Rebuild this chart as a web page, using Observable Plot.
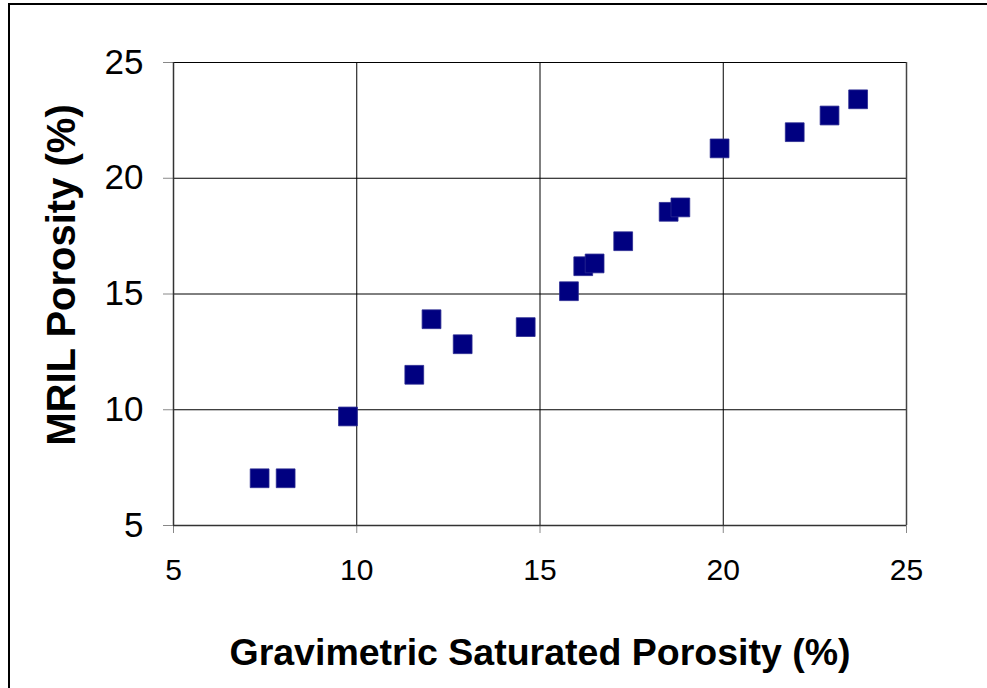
<!DOCTYPE html>
<html>
<head>
<meta charset="utf-8">
<script src="https://cdn.jsdelivr.net/npm/d3@7"></script>
<script src="https://cdn.jsdelivr.net/npm/@observablehq/plot@0.6"></script>
<style>
  html, body { margin: 0; padding: 0; background: #fff; overflow: hidden; }
  #wrap { position: relative; width: 987px; height: 688px; }
  #border { position: absolute; left: 8px; top: 3px; width: 1200px; height: 1200px; border: 2px solid #000; box-sizing: border-box; pointer-events: none; }
  #chart { position: absolute; left: 0; top: 0; }
</style>
</head>
<body>
<div id="wrap"><div id="border"></div><div id="chart"></div></div>
<script>
const gravimetric = [7.35, 8.06, 9.76, 11.57, 12.04, 12.89, 14.61, 15.79, 16.18, 16.49, 17.27, 18.51, 18.83, 19.90, 21.95, 22.90, 23.68];
const mril        = [7.04, 7.04, 9.71, 11.51, 13.91, 12.83, 13.57, 15.12, 16.20, 16.32, 17.28, 18.55, 18.74, 21.29, 21.99, 22.71, 23.41];
const xTicks = [5, 10, 15, 20, 25];
const yTicks = [5, 10, 15, 20, 25];
const xTitle = "Gravimetric Saturated Porosity (%)";
const yTitle = "MRIL Porosity (%)";

const data = gravimetric.map((g, i) => ({g, m: mril[i]}));
const font = "'Liberation Sans', Arial, Helvetica, sans-serif";

const chart = Plot.plot({
  width: 987,
  height: 688,
  marginLeft: 173,
  marginRight: 81,
  marginTop: 62,
  marginBottom: 163,
  style: {fontFamily: font, background: "transparent", overflow: "visible"},
  x: {domain: [5, 25]},
  y: {domain: [5, 25]},
  marks: [
    Plot.ruleX(xTicks, {stroke: "#000", strokeWidth: 1}),
    Plot.ruleY(yTicks, {stroke: "#000", strokeWidth: 1}),
    Plot.axisX({ticks: xTicks, tickSize: 8, tickPadding: 25, stroke: "#888", fontSize: 30, fill: "#000", label: null, tickFormat: d => String(d)}),
    Plot.axisY({ticks: yTicks, tickSize: 10, tickPadding: 20, stroke: "#888", fontSize: 35, fill: "#000", label: null, tickFormat: d => String(d)}),
    Plot.ruleX([5], {stroke: "#333", strokeWidth: 1.5}),
    Plot.ruleY([5], {stroke: "#333", strokeWidth: 1.5}),
    Plot.ruleX([25], {stroke: "#444", strokeWidth: 1.5}),
    Plot.dot(data, {x: "g", y: "m", symbol: "square", r: 10.6, fill: "#000080", stroke: "#2a2a90", strokeWidth: 0.8, strokeLinejoin: "round"}),
    Plot.text([xTitle], {frameAnchor: "bottom", dy: 127, text: d => d, fontSize: 37.5, fontWeight: "bold", fill: "#000", lineAnchor: "middle", textAnchor: "middle"}),
    Plot.text([yTitle], {frameAnchor: "left", dx: -111, dy: -19, rotate: -90, text: d => d, fontSize: 40, fontWeight: "bold", fill: "#000", lineAnchor: "middle", textAnchor: "middle"})
  ]
});
document.getElementById("chart").appendChild(chart);
</script>
</body>
</html>
